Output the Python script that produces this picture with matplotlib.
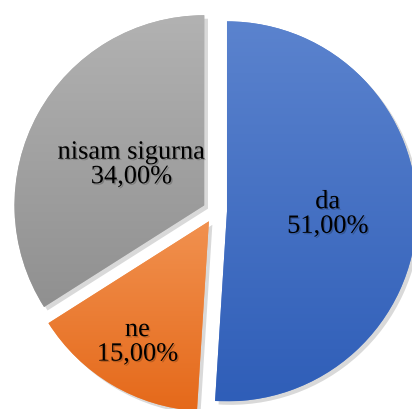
import numpy as np
import matplotlib
matplotlib.use('Agg')
import matplotlib.pyplot as plt
import matplotlib.patheffects as pe
from matplotlib.colors import LinearSegmentedColormap

plt.rcParams['font.family'] = ['Liberation Serif', 'DejaVu Serif']

# podaci
kategorije = ['da', 'ne', 'nisam sigurna']
udjeli = [51.0, 15.0, 34.0]

# gradijent (gore svjetlije, dolje tamnije)
boje_gore = ['#5b83ce', '#f1914f', '#b2b2b2']
boje_dolje = ['#2f5eb8', '#e5691a', '#909090']
# koliko daleko od sredista staviti oznaku (udio radijusa)
oznaka_r = [0.53, 0.74, 0.44]

fig = plt.figure(figsize=(4.12, 4.10), dpi=100)
fig.patch.set_facecolor('white')
ax = fig.add_axes([0, 0, 1, 1])

R = 190
# explode je u jedinicama podataka (pikseli ovdje)
wedges, _ = ax.pie(udjeli, startangle=90, counterclock=False,
                   explode=[12] * 3, center=(215, 198), radius=R,
                   colors=boje_gore,
                   wedgeprops={'linewidth': 0, 'edgecolor': 'none'})

ax.axis('off')

for w, c1, c2, lab, val, fr in zip(wedges, boje_gore, boje_dolje,
                                   kategorije, udjeli, oznaka_r):
    # sjena
    w.set_path_effects([pe.SimplePatchShadow(offset=(2.5, -2.5),
                                             shadow_rgbFace='#000000',
                                             alpha=0.15),
                        pe.Normal()])
    # gradijent preko kriške
    bb = w.get_path().get_extents(w.get_transform() + ax.transData.inverted())
    cmap = LinearSegmentedColormap.from_list('g', [c2, c1])
    grad = np.linspace(0, 1, 256).reshape(-1, 1)
    im = ax.imshow(grad, cmap=cmap, origin='lower', aspect='auto',
                   extent=[bb.x0, bb.x1, bb.y0, bb.y1], zorder=w.get_zorder() + 0.1)
    im.set_clip_path(w)

    # oznaka
    ang = np.deg2rad((w.theta1 + w.theta2) / 2)
    cx, cy = w.center
    x = cx + fr * R * np.cos(ang)
    y = cy + fr * R * np.sin(ang)
    txt = ax.text(x, y, f'{lab}\n{val:.2f}%'.replace('.', ','),
                  ha='center', va='center', fontsize=19, color='black',
                  linespacing=1.15, zorder=5)
    txt.set_path_effects([pe.SimplePatchShadow(offset=(1, -1),
                                               alpha=0.2),
                          pe.Normal()])

ax.set_xlim(0, 412)
ax.set_ylim(0, 410)
ax.set_aspect('equal')

plt.savefig('out.png', dpi=100, facecolor='white')
plt.close()
